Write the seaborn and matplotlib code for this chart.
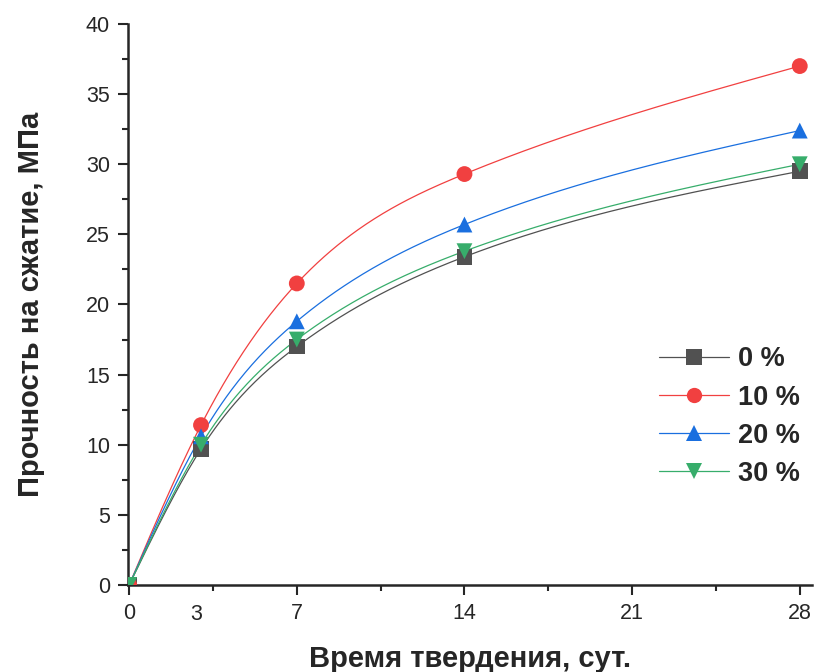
import numpy as np
import pandas as pd
import matplotlib
matplotlib.use("Agg")
import matplotlib.pyplot as plt
from matplotlib.lines import Line2D
from matplotlib.ticker import MultipleLocator
import seaborn as sns

days = [0, 3, 7, 14, 28]
s0 = [0, 9.7, 17.0, 23.4, 29.5]
s10 = [0, 11.4, 21.5, 29.3, 37.0]
s20 = [0, 10.6, 18.8, 25.7, 32.4]
s30 = [0, 10.0, 17.5, 23.8, 30.0]
labels = ["0 %", "10 %", "20 %", "30 %"]
colors = ["#515151", "#F14040", "#1A6FDF", "#37AD6B"]
markers = ["s", "o", "^", "v"]


def spline(x, y, xs):
    # natural cubic spline through the points, only to draw the smooth line
    x = np.asarray(x, float)
    y = np.asarray(y, float)
    n = len(x)
    h = np.diff(x)
    A = np.zeros((n, n))
    b = np.zeros(n)
    A[0, 0] = A[-1, -1] = 1
    for i in range(1, n - 1):
        A[i, i - 1] = h[i - 1]
        A[i, i] = 2 * (h[i - 1] + h[i])
        A[i, i + 1] = h[i]
        b[i] = 6 * ((y[i + 1] - y[i]) / h[i] - (y[i] - y[i - 1]) / h[i - 1])
    M = np.linalg.solve(A, b)
    idx = np.clip(np.searchsorted(x, xs) - 1, 0, n - 2)
    hi = h[idx]
    a = x[idx + 1] - xs
    c = xs - x[idx]
    return (M[idx] * a**3 / (6 * hi) + M[idx + 1] * c**3 / (6 * hi)
            + (y[idx] / hi - M[idx] * hi / 6) * a
            + (y[idx + 1] / hi - M[idx + 1] * hi / 6) * c)


sns.set_style("ticks")
plt.rcParams["font.family"] = ["Liberation Sans", "DejaVu Sans"]

fig = plt.figure(figsize=(8.15, 6.72), dpi=100)
ax = fig.add_axes([0.157, 0.1295, 0.839, 0.8348])

xs = np.linspace(0, 28, 400)
handles = []
for vals, lab, c, mk in zip([s0, s10, s20, s30], labels, colors, markers):
    ax.plot(xs, spline(days, vals, xs), color=c, lw=0.9, zorder=2)
    df = pd.DataFrame({"day": days, "val": vals})
    sns.scatterplot(data=df, x="day", y="val", color=c, marker=mk, s=130,
                    edgecolor="none", ax=ax, zorder=3, legend=False)
    handles.append(Line2D([], [], color=c, lw=0.9, marker=mk, markersize=11,
                          markeredgewidth=0, label=lab))

ax.set_xlim(-0.05, 28.5)
ax.set_ylim(0, 40)
ax.set_xticks([0, 7, 14, 21, 28])
ax.set_xticklabels(["0", "7", "14", "21", "28"])
ax.xaxis.set_minor_locator(MultipleLocator(3.5))
ax.yaxis.set_major_locator(MultipleLocator(5))
ax.yaxis.set_minor_locator(MultipleLocator(2.5))
ax.text(2.8, -1.35, "3", ha="center", va="top", fontsize=15.5)

ax.tick_params(which="major", direction="out", length=7, width=1.5, labelsize=15.5, pad=6)
ax.tick_params(which="minor", direction="out", length=4, width=1.5)
for sp in ["left", "bottom"]:
    ax.spines[sp].set_linewidth(1.8)
sns.despine(ax=ax)

ax.set_xlabel("Время твердения, сут.", fontsize=21, fontweight="bold", labelpad=15)
ax.set_ylabel("Прочность на сжатие, МПа", fontsize=21, fontweight="bold", labelpad=29)

ax.legend(handles=handles, loc="center left", bbox_to_anchor=(0.741, 0.3),
          frameon=False, handlelength=2.6, handletextpad=0.3, labelspacing=0.45,
          prop={"weight": "bold", "size": 19.5})

fig.savefig("out.png", dpi=100)
